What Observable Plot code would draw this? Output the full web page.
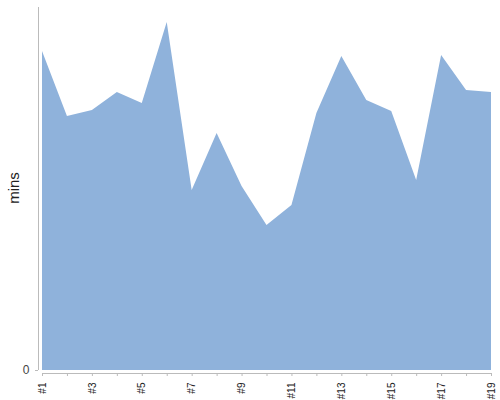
<!DOCTYPE html>
<html>
<head>
<meta charset="utf-8">
<script src="https://cdn.jsdelivr.net/npm/d3@7"></script>
<script src="https://cdn.jsdelivr.net/npm/@observablehq/plot@0.6"></script>
<style>
  html, body { margin: 0; padding: 0; background: #fff; }
  svg { display: block; }
</style>
</head>
<body>
<div id="chart"></div>
<script>
const categories = ["#1","#2","#3","#4","#5","#6","#7","#8","#9","#10","#11","#12","#13","#14","#15","#16","#17","#18","#19"];
const mins = [31.9, 25.4, 26.0, 27.8, 26.7, 34.8, 18.0, 23.7, 18.4, 14.5, 16.5, 25.7, 31.4, 27.0, 25.9, 19.0, 31.5, 28.0, 27.8];
const yTicks = [0];
const yMax = 36.5;

const data = categories.map((c, i) => ({cat: c, v: mins[i]}));

const chart = Plot.plot({
  width: 500,
  height: 400,
  marginLeft: 42,
  marginRight: 9,
  marginTop: 5,
  marginBottom: 30,
  style: {fontFamily: "'Liberation Sans', Arial, sans-serif", background: "#fff"},
  x: {type: "point", domain: categories, padding: 0, round: false},
  y: {domain: [0, yMax]},
  marks: [
    Plot.areaY(data, {x: "cat", y: "v", fill: "#8fb2db", curve: "linear"}),
    Plot.ruleX([categories[0]], {dx: -4, y1: 0, y2: yMax, insetBottom: -2, stroke: "#bbb", strokeWidth: 1}),
    Plot.ruleY([0], {dy: 3, stroke: "#bbb", strokeWidth: 1}),
    Plot.axisX({
      ticks: categories,
      tickSize: 3,
      dy: 3,
      tickRotate: -90,
      tickFormat: (d, i) => (i % 2 === 0 ? d : ""),
      stroke: "#bbb",
      fill: "#222",
      fontSize: 10,
      label: null
    }),
    Plot.axisY({
      ticks: yTicks,
      tickSize: 3,
      dx: -4,
      stroke: "#bbb",
      fill: "#444",
      fontSize: 12,
      label: null
    }),
    Plot.text(["mins"], {
      frameAnchor: "left",
      textAnchor: "middle",
      dx: -28,
      rotate: -90,
      fontSize: 15,
      fill: "#222"
    })
  ]
});
document.getElementById("chart").appendChild(chart);
</script>
</body>
</html>
